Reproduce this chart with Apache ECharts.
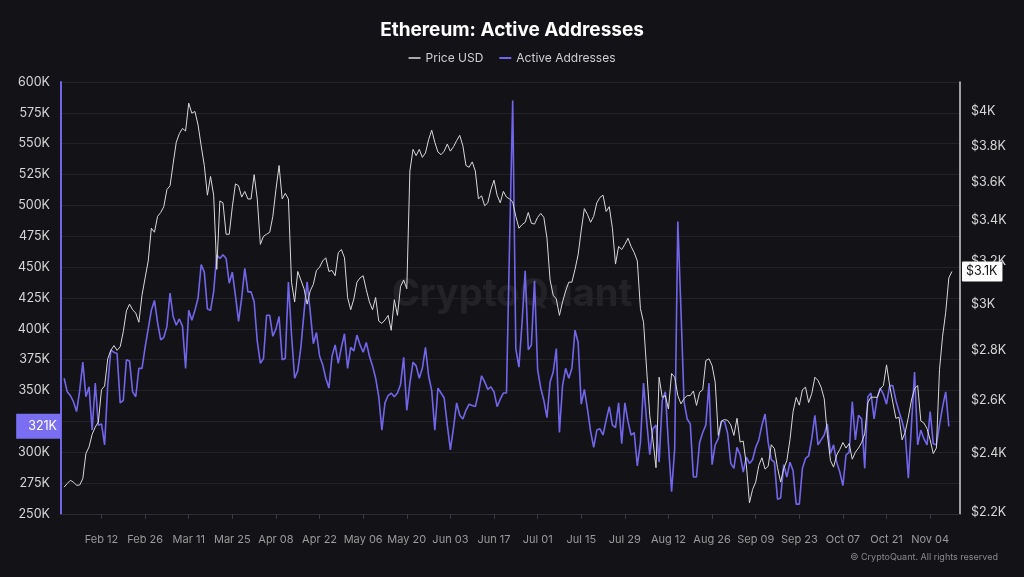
<!DOCTYPE html>
<html>
<head>
<meta charset="utf-8">
<script src="https://cdn.jsdelivr.net/npm/echarts@6/dist/echarts.min.js"></script>
<style>
  html, body { margin: 0; padding: 0; background: #131217; }
  #chart { width: 1024px; height: 577px; }
</style>
</head>
<body>
<div id="chart"></div>
<script>
// ---- Data (daily, first point = 2024-01-31) ----
const startDate = '2024-01-31';

const priceUSD = [
  2283,2295,2306,2300,2289,2290,2312,2400,2424,2470,2497,2516,2640,2655,2765,2800,2820,2800,2815,2880,
  2970,3000,2975,2960,2920,3040,3120,3200,3360,3340,3420,3440,3470,3560,3580,3700,3820,3870,3900,3885,
  4050,3990,4000,3920,3800,3690,3530,3630,3530,3160,3500,3490,3330,3330,3470,3590,3580,3520,3550,3510,
  3510,3640,3510,3280,3320,3330,3340,3420,3560,3690,3510,3540,3510,3100,3010,3150,3110,3070,3000,3060,
  3090,3155,3170,3200,3215,3150,3155,3130,3240,3255,3215,3030,2975,3023,3100,3120,3130,3065,3010,2975,
  3030,2925,2915,2930,2950,2885,3020,2950,3080,3110,3070,3660,3780,3745,3780,3735,3760,3835,3890,3820,
  3765,3750,3770,3810,3770,3795,3830,3860,3800,3690,3680,3710,3660,3510,3527,3475,3490,3560,3610,3530,
  3490,3550,3520,3510,3495,3420,3360,3378,3390,3440,3385,3381,3415,3435,3415,3310,3110,3040,3023,2950,
  3010,3060,3100,3100,3160,3230,3350,3460,3430,3390,3420,3490,3518,3530,3445,3470,3360,3185,3270,3255,
  3280,3310,3270,3240,3200,2980,2920,2720,2540,2450,2350,2690,2610,2617,2565,2705,2690,2617,2585,2605,
  2617,2617,2635,2579,2630,2640,2758,2765,2737,2670,2466,2520,2525,2522,2505,2466,2530,2442,2445,2360,
  2230,2275,2300,2358,2385,2345,2355,2432,2418,2350,2300,2347,2375,2450,2555,2610,2580,2640,2650,2590,
  2625,2690,2677,2650,2605,2470,2375,2352,2395,2415,2440,2420,2436,2380,2405,2420,2440,2472,2590,2611,
  2611,2610,2644,2657,2740,2657,2592,2530,2534,2450,2478,2534,2600,2644,2657,2520,2512,2491,2450,2400,
  2420,2720,2860,2964,3120,3150
];

// Active addresses, in thousands
const activeAddressesK = [
  360,349,346,341,333,350,373,345,353,318,356,322,323,306,354,383,381,380,340,342,
  375,374,349,345,368,368,385,400,415,423,405,391,393,402,429,410,403,408,402,368,
  415,407,415,425,452,446,416,415,430,460,457,460,457,437,446,427,406,425,449,430,
  430,422,390,372,376,411,411,394,400,410,375,376,438,395,360,366,385,413,438,414,
  388,397,378,371,360,352,378,387,372,385,396,368,385,382,395,387,381,389,378,370,
  360,345,318,340,346,348,345,348,355,377,334,356,373,370,360,368,385,362,350,318,
  352,348,344,322,302,320,340,330,327,334,339,338,337,348,362,357,351,353,349,337,
  343,348,348,470,585,384,369,405,447,383,387,439,367,352,342,328,357,365,384,316,
  354,368,360,368,399,389,339,351,335,317,304,318,319,314,326,337,322,320,340,307,
  340,325,314,316,289,308,356,325,298,319,322,292,342,349,306,268,303,487,416,341,
  327,323,280,280,308,316,322,356,290,306,311,325,325,315,291,287,304,298,284,296,
  291,294,304,310,322,331,308,294,292,262,263,290,280,292,285,258,258,287,295,297,
  311,330,306,310,314,323,299,306,292,284,273,298,300,341,310,330,327,287,345,348,
  327,344,352,347,339,354,354,342,333,325,315,279,322,365,306,318,311,306,333,307,
  306,322,337,349,321
];

// x-axis tick dates (every two weeks)
const tickDates = ['2024-02-12','2024-02-26','2024-03-11','2024-03-25','2024-04-08','2024-04-22',
  '2024-05-06','2024-05-20','2024-06-03','2024-06-17','2024-07-01','2024-07-15','2024-07-29',
  '2024-08-12','2024-08-26','2024-09-09','2024-09-23','2024-10-07','2024-10-21','2024-11-04'];

const priceTicks = [2200,2400,2600,2800,3000,3200,3400,3600,3800,4000];

// ---- Build ----
const DAY = 86400000;
const t0 = Date.parse(startDate + 'T00:00:00Z');
const priceData = priceUSD.map((v, i) => [t0 + i * DAY, v]);
const activeData = activeAddressesK.map((v, i) => [t0 + i * DAY, v]);
const tickTs = tickDates.map(d => Date.parse(d + 'T00:00:00Z'));
const months = ['Jan','Feb','Mar','Apr','May','Jun','Jul','Aug','Sep','Oct','Nov','Dec'];
const fmtDate = v => { const d = new Date(v); return months[d.getUTCMonth()] + ' ' + String(d.getUTCDate()).padStart(2, '0'); };
const lastActive = activeAddressesK[activeAddressesK.length - 1];
const lastPrice = priceUSD[priceUSD.length - 1];

const PURPLE = '#7166ea';
const WHITE = '#d8d8d8';
const FONT = 'Inter, "Noto Sans", sans-serif';

const chart = echarts.init(document.getElementById('chart'), null, { renderer: 'canvas' });
chart.setOption({
  backgroundColor: '#131217',
  animation: false,
  textStyle: { fontFamily: FONT },
  title: {
    text: 'Ethereum: Active Addresses',
    left: 'center', top: 16,
    textStyle: { color: '#ffffff', fontSize: 19, fontWeight: 'bold', fontFamily: FONT }
  },
  legend: {
    data: ['Price USD', 'Active Addresses'],
    top: 47, left: 'center',
    itemWidth: 12, itemHeight: 2, itemGap: 16,
    icon: 'rect',
    textStyle: { color: '#cfcfcf', fontSize: 12, fontFamily: FONT }
  },
  grid: { left: 61, right: 64, top: 82, bottom: 63 },
  graphic: [
    {
      type: 'text', left: 'center', top: 276, z: 0,
      style: { text: 'CryptoQuant', fill: 'rgba(255,255,255,0.07)', font: 'bold 38px Inter, sans-serif' }
    },
    {
      type: 'text', right: 26, top: 553,
      style: { text: '© CryptoQuant. All rights reserved', fill: '#8a8a8a', font: '9px Inter, sans-serif' }
    }
  ],
  xAxis: {
    type: 'value',
    min: Date.parse('2024-01-30T00:00:00Z'),
    max: Date.parse('2024-11-13T14:00:00Z'),
    axisLine: { show: true, onZero: false, lineStyle: { color: '#2e2d33' } },
    axisTick: { show: true, length: 5, customValues: tickTs, lineStyle: { color: '#3a3940' } },
    axisLabel: { customValues: tickTs, formatter: fmtDate, color: '#9a9a9a', fontSize: 11, margin: 20, fontFamily: FONT },
    splitLine: { show: false }
  },
  yAxis: [
    {
      type: 'value', min: 250, max: 600, interval: 25, position: 'left',
      axisLine: { show: true, lineStyle: { color: PURPLE, width: 2 } },
      axisTick: { show: false },
      axisLabel: { formatter: v => v + 'K', color: '#d6d6d6', fontSize: 12.5, margin: 11, fontFamily: FONT },
      splitLine: { show: true, lineStyle: { color: '#232228', width: 1 } }
    },
    {
      type: 'log', min: 2193, max: 4180, position: 'right',
      axisLine: { show: true, lineStyle: { color: '#cfcfcf', width: 1.5 } },
      axisTick: { show: false },
      axisLabel: {
        customValues: priceTicks,
        formatter: v => '$' + (v / 1000) + 'K',
        color: '#d6d6d6', fontSize: 12.5, margin: 11, fontFamily: FONT
      },
      splitLine: { show: false }
    }
  ],
  series: [
    {
      name: 'Active Addresses', type: 'line', yAxisIndex: 0, data: activeData,
      showSymbol: false, clip: false,
      lineStyle: { color: PURPLE, width: 1.6 }, itemStyle: { color: PURPLE },
      z: 3,
      markLine: {
        silent: true, symbol: 'none', animation: false,
        lineStyle: { color: 'rgba(0,0,0,0)', width: 0, type: 'solid' },
        label: {
          show: true, position: 'start', distance: 0,
          formatter: () => lastActive + 'K',
          backgroundColor: '#7a6ff2', color: '#ffffff', fontSize: 12.5, lineHeight: 14,
          padding: [7, 4, 4, 12], fontFamily: FONT
        },
        data: [{ yAxis: lastActive }]
      }
    },
    {
      name: 'Price USD', type: 'line', yAxisIndex: 1, data: priceData,
      showSymbol: false, clip: false,
      lineStyle: { color: WHITE, width: 1 }, itemStyle: { color: '#a9a9a9' },
      z: 4,
      markLine: {
        silent: true, symbol: 'none', animation: false,
        lineStyle: { color: 'rgba(0,0,0,0)', width: 0, type: 'solid' },
        label: {
          show: true, position: 'end', distance: 2,
          formatter: () => '$' + (Math.floor(lastPrice / 100) / 10) + 'K',
          backgroundColor: '#ffffff', color: '#111111', fontSize: 12.5, lineHeight: 14,
          padding: [3, 5, 3, 4], borderRadius: 1, fontFamily: FONT
        },
        data: [{ yAxis: lastPrice }]
      }
    }
  ]
});
</script>
</body>
</html>
